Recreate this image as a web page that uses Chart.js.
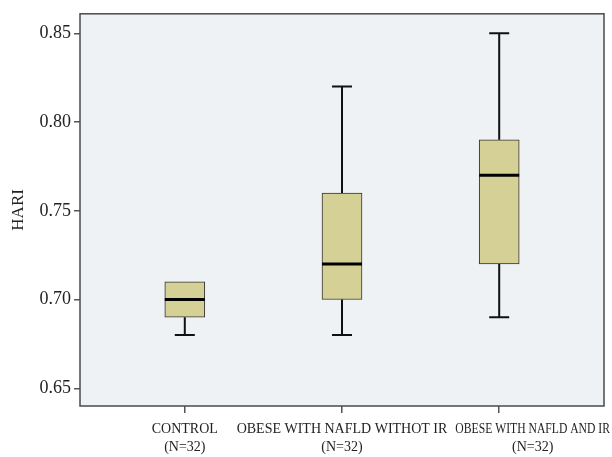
<!DOCTYPE html>
<html>
<head>
<meta charset="utf-8">
<script src="https://cdn.jsdelivr.net/npm/chart.js@4/dist/chart.umd.min.js"></script>
<style>
  html, body { margin: 0; padding: 0; background: #ffffff; }
  #wrap { width: 612px; height: 457px; position: relative; }
</style>
</head>
<body>
<div id="wrap"><canvas id="c" width="612" height="457"></canvas></div>
<script>
// ---- data ----
const categoryLines = [
  ['CONTROL', '(N=32)'],
  ['OBESE WITH NAFLD WITHOT IR', '(N=32)'],
  ['OBESE WITH NAFLD AND IR', '(N=32)']
];
const whiskerLow  = [0.68, 0.68, 0.69];
const q1Values    = [0.69, 0.70, 0.72];
const medianVals  = [0.70, 0.72, 0.77];
const q3Values    = [0.71, 0.76, 0.79];
const whiskerHigh = [0.71, 0.82, 0.85];
const yTickValues = [0.65, 0.70, 0.75, 0.80, 0.85];
const yTitle = 'HARI';

const FONT = "'Liberation Serif', 'DejaVu Serif', serif";
const BOX_FILL = '#d5d095';
const PLOT_BG = '#eef2f5';

const bgPlugin = {
  id: 'plotBg',
  beforeDraw(chart) {
    const a = chart.chartArea, ctx = chart.ctx;
    ctx.save();
    ctx.fillStyle = PLOT_BG;
    ctx.fillRect(a.left, a.top, a.right - a.left, a.bottom - a.top);
    ctx.restore();
  },
  afterDraw(chart) {
    const a = chart.chartArea, ctx = chart.ctx;
    ctx.save();
    ctx.strokeStyle = '#4a4a4a';
    ctx.lineWidth = 1.5;
    ctx.strokeRect(a.left, a.top, a.right - a.left, a.bottom - a.top);
    ctx.restore();
  }
};

const boxPlugin = {
  id: 'boxParts',
  afterDatasetsDraw(chart) {
    const xs = chart.scales.x, ys = chart.scales.y, ctx = chart.ctx;
    const meta = chart.getDatasetMeta(0);
    ctx.save();
    categoryLines.forEach((_, i) => {
      const cx = xs.getPixelForValue(i + 1);
      const bar = meta.data[i];
      const half = bar.width / 2;
      const capHalf = half / 2;
      const yLo = ys.getPixelForValue(whiskerLow[i]);
      const yQ1 = ys.getPixelForValue(q1Values[i]);
      const yQ3 = ys.getPixelForValue(q3Values[i]);
      const yHi = ys.getPixelForValue(whiskerHigh[i]);
      const yMed = ys.getPixelForValue(medianVals[i]);
      ctx.strokeStyle = '#111111';
      ctx.lineWidth = 2;
      ctx.beginPath();
      if (yHi < yQ3) {
        ctx.moveTo(cx, yQ3); ctx.lineTo(cx, yHi);
        ctx.moveTo(cx - capHalf, yHi); ctx.lineTo(cx + capHalf, yHi);
      }
      if (yLo > yQ1) {
        ctx.moveTo(cx, yQ1); ctx.lineTo(cx, yLo);
        ctx.moveTo(cx - capHalf, yLo); ctx.lineTo(cx + capHalf, yLo);
      }
      ctx.stroke();
      ctx.lineWidth = 3;
      ctx.strokeStyle = '#000000';
      ctx.beginPath();
      ctx.moveTo(cx - half, yMed); ctx.lineTo(cx + half, yMed);
      ctx.stroke();
    });
    ctx.restore();
  }
};

const xLabelPlugin = {
  id: 'xLabels',
  afterDraw(chart) {
    const xs = chart.scales.x, ctx = chart.ctx;
    const a = chart.chartArea;
    const W = chart.width;
    ctx.save();
    ctx.font = '14px ' + FONT;
    ctx.fillStyle = '#222222';
    ctx.textBaseline = 'alphabetic';
    ctx.textAlign = 'left';
    let prevRight = -Infinity;
    const gap = 8;
    categoryLines.forEach((lines, i) => {
      const c = xs.getPixelForValue(i + 1);
      const w = ctx.measureText(lines[0]).width;
      let left = c - w / 2;
      if (left < prevRight + gap) left = prevRight + gap;
      let right = Math.min(left + w, W - 2);
      const used = right - left;
      ctx.fillText(lines[0], left, a.bottom + 27, used);
      const center = left + used / 2;
      const w2 = ctx.measureText(lines[1]).width;
      ctx.fillText(lines[1], center - w2 / 2, a.bottom + 45);
      prevRight = right;
    });
    ctx.restore();
  }
};

const boxData = categoryLines.map((_, i) => ({ x: i + 1, y: [q1Values[i], q3Values[i]] }));

new Chart(document.getElementById('c'), {
  type: 'bar',
  data: {
    datasets: [{
      data: boxData,
      backgroundColor: BOX_FILL,
      borderColor: '#333333',
      borderWidth: 1,
      borderSkipped: false,
      barThickness: 40
    }]
  },
  options: {
    responsive: false,
    animation: false,
    layout: { padding: { left: 0, right: 8, top: 7, bottom: 0 } },
    plugins: { legend: { display: false }, tooltip: { enabled: false } },
    scales: {
      x: {
        type: 'linear',
        min: 1 / 3,
        max: 3 + 2 / 3,
        offset: false,
        afterBuildTicks(scale) { scale.ticks = [1, 2, 3].map(v => ({ value: v })); },
        afterFit(scale) { scale.height = 51; },
        ticks: { display: false },
        grid: { offset: false, drawOnChartArea: false, drawTicks: true, tickLength: 7, color: '#555555', lineWidth: 1.5 },
        border: { display: false }
      },
      y: {
        type: 'linear',
        min: 0.64,
        max: 0.861,
        afterBuildTicks(scale) { scale.ticks = yTickValues.map(v => ({ value: v })); },
        afterFit(scale) { scale.width = 80; },
        ticks: {
          font: { family: FONT, size: 18, weight: 'normal' },
          color: '#222222',
          padding: 3,
          callback: v => Number(v).toFixed(2)
        },
        grid: { drawOnChartArea: false, drawTicks: true, tickLength: 6, color: '#555555', lineWidth: 1.5 },
        border: { display: false },
        title: {
          display: true,
          text: yTitle,
          font: { family: FONT, size: 17, weight: 'normal' },
          color: '#222222',
          padding: { top: 8, bottom: 0 }
        }
      }
    }
  },
  plugins: [bgPlugin, boxPlugin, xLabelPlugin]
});
</script>
</body>
</html>
